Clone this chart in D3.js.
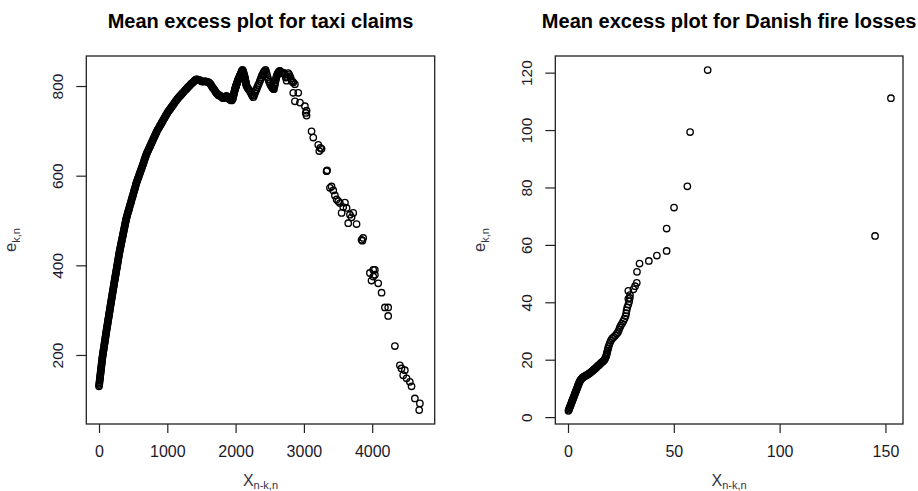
<!DOCTYPE html>
<html>
<head>
<meta charset="utf-8">
<script src="https://cdn.jsdelivr.net/npm/d3@7"></script>
<style>
  html, body { margin: 0; padding: 0; background: #fff; }
  svg { display: block; }
</style>
</head>
<body>
<svg id="chart" width="918" height="491"></svg>
<script>
// ---------- Data ----------
// Mean excess plot for taxi claims: threshold X_{n-k,n} and mean excess e_{k,n}
const taxiU = [
  0,2,5,7,9,12,14,16,18,21,23,25,28,30,32,35,37,39,42,44,46,49,
  51,54,57,60,63,66,69,72,75,78,81,84,87,90,93,96,99,102,105,108,
  111,114,117,121,124,127,130,133,136,140,143,146,149,152,156,159,162,165,168,171,175,178,181,184,187,190,194,197,
  200,203,207,210,213,217,220,223,226,230,233,236,240,243,247,250,253,257,260,263,267,270,273,277,280,283,287,290,293,297,
  300,304,308,312,316,320,324,328,332,336,340,344,348,352,356,360,364,368,372,376,380,384,388,392,396,400,
  406,412,418,424,430,436,442,448,454,460,466,472,478,484,490,496,502,508,514,520,526,532,538,544,550,
  557,564,571,578,585,592,599,606,613,620,627,634,641,648,655,662,669,676,683,690,697,
  706,715,724,733,742,751,760,769,778,787,796,805,814,823,832,841,850,
  860,870,880,890,900,910,920,930,940,950,960,970,980,990,1000,
  1012,1024,1036,1048,1060,1072,1084,1096,1108,1120,1132,1144,
  1158,1172,1186,1200,1214,1228,1242,1256,1270,1284,1298,
  1313,1328,1343,1358,1373,1388,1400,
  1412,1425,1437,1450,1464,1478,1494,1510,1530,1551,1570,1590,1608,1625,1638,1650,1662,1673,1686,1700,1711,1722,1733,1745,1758,1771,1783,1795,1808,1820,1832,1845,1857,1869,1881,1893,1905,1917,1928,1940,1948,1956,
  1960,1965,1970,1975,1978,1982,1986,1990,1994,1997,2001,2005,2009,2012,2016,2020,2025,2030,2035,2040,2045,2051,2057,2063,2068,2074,2080,2085,2090,2094,2098,2102,2106,2111,2115,2120,2124,2128,2132,2137,2140,2143,2146,2150,2153,2155,2158,2161,
  2173,2185,2197,2210,2222,2235,2247,2259,2271,2283,2295,2307,2318,2330,2343,2356,2365,2375,2385,2395,2405,2415,2427,2439,2448,2458,2468,2478,2489,2500,2513,2527,2536,2545,2553,2561,
  2570,2575,2580,2585,2590,2595,2600,2606,2612,2618,2625,2631,2637,2643,2649,2662,2675,2686,2698,2709,2720,2733,2747,2759,2771,2783,2795,2808,2820,2832,2844,
  2868,2844,2917,2868,2942,3015,3039,3027,3039,3112,3137,3210,3240,3225,3259,3332,3340,3381,3405,3430,3454,3479,3503,3527,3552,3576,3601,3625,3649,3674,3698,3722,3771,3844,3868,3856,3966,3990,4015,4015,4039,4039,4088,4137,4186,4234,4234,4332,4405,4429,4478,4454,4503,4551,4576,4625,4698,4688];
const taxiE = [
  130,133,136,139,142,145,148,151,154,157,160,163,166,169,172,175,178,181,184,187,190,193,
  196,199,202,205,208,211,214,217,220,223,226,229,232,235,238,241,244,247,250,253,
  256,259,262,265,268,271,274,277,280,283,286,289,292,295,298,301,304,307,310,313,316,319,322,325,328,331,334,337,
  340,343,346,349,352,355,358,361,364,367,370,373,376,379,382,385,388,391,394,397,400,403,406,409,412,415,418,421,424,427,
  430,433,436,439,442,445,448,451,454,457,460,463,466,469,472,475,478,481,484,487,490,493,496,499,502,505,
  508,511,515,518,521,524,527,531,534,537,540,543,547,550,553,556,559,563,566,569,572,575,579,582,585,
  588,591,594,597,600,603,606,609,612,615,618,621,624,627,630,634,637,640,643,646,649,
  652,655,658,661,664,667,670,673,676,679,682,685,688,691,694,697,700,
  703,705,708,711,713,716,719,721,724,727,729,732,735,737,740,
  743,745,748,750,753,755,758,760,763,766,768,771,
  773,776,778,780,783,785,787,790,792,794,797,
  799,801,804,806,808,810,812,
  814,815,815,814,813,813,811,810,810,811,810,809,808,806,803,800,797,795,792,789,786,784,782,780,779,779,777,776,774,773,774,776,777,778,776,773,771,770,769,768,769,771,
  773,776,779,782,785,787,790,792,794,796,798,799,801,803,805,806,809,811,813,815,817,819,821,823,825,827,829,831,833,834,835,836,834,832,830,828,825,823,821,818,815,813,810,808,806,804,802,800,
  797,794,791,789,785,781,778,775,779,784,789,793,798,802,806,811,815,819,823,826,829,832,834,836,831,826,820,815,810,806,802,799,797,795,794,793,
  800,804,808,812,815,819,822,824,826,828,830,831,832,833,834,831,829,829,830,828,826,819,812,820,829,826,822,817,812,810,808,
  804,785,785,766,763,755,745,740,734,699,685,669,662,655,660,610,612,573,576,567,556,547,543,539,517,530,540,528,494,513,507,517,492,457,461,455,383,366,390,375,379,390,360,339,306,306,287,220,177,170,166,155,148,140,130,103,92,77];

// Mean excess plot for Danish fire losses
const danishU = [
  0.2,0.4,0.6,0.8,1.0,1.2,1.4,1.6,1.8,2.0,2.2,2.4,2.6,2.8,3.0,3.2,3.4,3.6,3.8,4.0,4.2,4.4,4.6,4.8,5.0,5.2,5.4,5.6,
  5.9,6.2,6.6,7.0,7.4,7.8,8.2,8.6,9.0,9.4,9.8,10.2,10.6,11.0,11.4,11.8,12.2,12.6,13.0,13.4,13.8,14.2,14.6,15.0,15.4,15.8,16.2,16.6,17.0,17.3,17.6,17.9,
  18.1,18.3,18.5,18.7,18.9,19.1,19.4,19.8,20.3,20.9,21.6,22.3,23.0,23.6,24.1,24.5,24.9,25.5,26.1,26.7,27.2,27.5,27.7,28.0,28.5,28.9,29.2,28.5,28.5,29.3,
  30.9,31.7,32.5,32.6,33.8,38.2,42.0,46.6,46.6,50.1,56.4,57.7,66.0,145.1,152.6];
const danishE = [
  2.2,2.6,3.0,3.4,3.7,4.1,4.5,4.9,5.3,5.7,6.1,6.4,6.8,7.2,7.6,8.0,8.4,8.8,9.1,9.5,9.9,10.3,10.7,11.1,11.5,11.8,12.2,12.5,
  12.9,13.2,13.5,13.8,14.0,14.2,14.4,14.5,14.7,14.9,15.1,15.3,15.5,15.8,16.0,16.3,16.5,16.8,17.0,17.3,17.6,17.9,18.1,18.4,18.7,19.0,19.2,19.5,19.8,20.1,20.5,21.0,
  21.5,22.0,22.6,23.2,23.8,24.4,25.1,25.9,26.7,27.4,27.9,28.4,29.0,29.6,30.4,31.2,31.9,32.6,33.4,34.3,35.2,36.2,37.2,38.2,39.2,40.3,41.5,41.2,44.0,42.5,
  44.5,45.6,46.8,50.6,53.5,54.4,56.3,57.9,65.7,73.0,80.4,99.3,120.9,63.1,111.1];

// Tick values
const taxiXTicks = [0, 1000, 2000, 3000, 4000];
const taxiYTicks = [200, 400, 600, 800];
const danishXTicks = [0, 50, 100, 150];
const danishYTicks = [0, 20, 40, 60, 80, 100, 120];

// ---------- Drawing ----------
const svg = d3.select("#chart");
const FONT = "'Liberation Sans', Arial, sans-serif";

function panel(cfg) {
  const { left, right, top, bottom, xDomain, yDomain, xTicks, yTicks, xs, ys, title } = cfg;
  const x = d3.scaleLinear().domain(xDomain).range([left, right]);
  const y = d3.scaleLinear().domain(yDomain).range([bottom, top]);

  // points
  const pts = xs.map((v, i) => [v, ys[i]]);
  svg.append("g").selectAll("circle").data(pts).enter().append("circle")
    .attr("cx", d => x(d[0])).attr("cy", d => y(d[1]))
    .attr("r", 3.2).attr("fill", "none").attr("stroke", "#000").attr("stroke-width", 1.35);

  // box
  svg.append("rect").attr("x", left).attr("y", top)
    .attr("width", right - left).attr("height", bottom - top)
    .attr("fill", "none").attr("stroke", "#222").attr("stroke-width", 1.3);

  // x axis
  const gx = svg.append("g").attr("transform", `translate(0,${bottom})`)
    .call(d3.axisBottom(x).tickValues(xTicks).tickSize(9).tickSizeOuter(0).tickFormat(d3.format("d")));
  gx.select(".domain").remove();
  gx.selectAll(".tick line").attr("stroke", "#222").attr("stroke-width", 1.2);
  gx.selectAll(".tick text").attr("y", 33).attr("dy", 0)
    .attr("font-family", FONT).attr("font-size", 16).attr("fill", "#1a1a2a");

  // y axis
  const gy = svg.append("g").attr("transform", `translate(${left},0)`)
    .call(d3.axisLeft(y).tickValues(yTicks).tickSize(10).tickSizeOuter(0).tickFormat(d3.format("d")));
  gy.select(".domain").remove();
  gy.selectAll(".tick line").attr("stroke", "#222").attr("stroke-width", 1.2);
  gy.selectAll(".tick text")
    .attr("transform", "rotate(-90)")
    .attr("x", 0).attr("y", -23).attr("dy", 0)
    .attr("text-anchor", "middle")
    .attr("font-family", FONT).attr("font-size", 15.5).attr("fill", "#1a1a2a");

  const cx = (left + right) / 2;
  const cy = (top + bottom) / 2;

  // title
  svg.append("text").attr("x", cx).attr("y", 28)
    .attr("text-anchor", "middle").attr("font-family", FONT)
    .attr("font-weight", "bold").attr("font-size", 20).attr("fill", "#000")
    .text(title);

  // x label  X_{n-k,n}
  const xl = svg.append("text").attr("x", cx).attr("y", 486)
    .attr("text-anchor", "middle").attr("font-family", FONT)
    .attr("font-size", 16).attr("fill", "#333344");
  xl.append("tspan").text("X");
  xl.append("tspan").attr("font-size", 11).attr("dy", 3).text("n-k,n");

  // y label  e_{k,n}
  const yl = svg.append("text")
    .attr("transform", `translate(${left - 70},${cy}) rotate(-90)`)
    .attr("text-anchor", "middle").attr("font-family", FONT)
    .attr("font-size", 16.5).attr("fill", "#333344");
  yl.append("tspan").text("e");
  yl.append("tspan").attr("font-size", 11).attr("dy", 4).text("k,n");
}

panel({
  left: 86.3, right: 434.7, top: 56, bottom: 424,
  xDomain: [-186, 4915], yDomain: [46, 867],
  xTicks: taxiXTicks, yTicks: taxiYTicks,
  xs: taxiU, ys: taxiE,
  title: "Mean excess plot for taxi claims"
});

panel({
  left: 555.3, right: 903, top: 56, bottom: 424,
  xDomain: [-6, 158.3], yDomain: [-2.4, 125.8],
  xTicks: danishXTicks, yTicks: danishYTicks,
  xs: danishU, ys: danishE,
  title: "Mean excess plot for Danish fire losses"
});
</script>
</body>
</html>
